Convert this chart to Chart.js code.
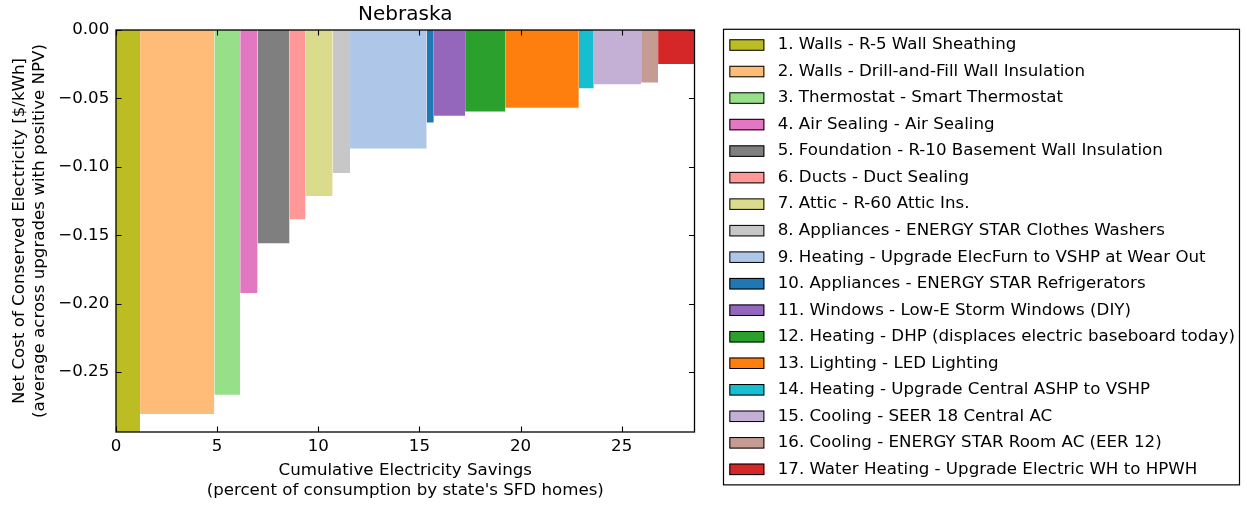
<!DOCTYPE html>
<html>
<head>
<meta charset="utf-8">
<script src="https://cdn.jsdelivr.net/npm/chart.js@4/dist/chart.umd.min.js"></script>
<style>
  html, body { margin: 0; padding: 0; background: #fff; }
  #supplyCurve { display: block; }
</style>
</head>
<body>
<canvas id="supplyCurve" width="1247" height="508"></canvas>
<script>
// upgrades in the order they are stacked along the x axis
const upgrades = [
    '1. Walls - R-5 Wall Sheathing',
    '2. Walls - Drill-and-Fill Wall Insulation',
    '3. Thermostat - Smart Thermostat',
    '4. Air Sealing - Air Sealing',
    '5. Foundation - R-10 Basement Wall Insulation',
    '6. Ducts - Duct Sealing',
    '7. Attic - R-60 Attic Ins.',
    '8. Appliances - ENERGY STAR Clothes Washers',
    '9. Heating - Upgrade ElecFurn to VSHP at Wear Out',
    '10. Appliances - ENERGY STAR Refrigerators',
    '11. Windows - Low-E Storm Windows (DIY)',
    '12. Heating - DHP (displaces electric baseboard today)',
    '13. Lighting - LED Lighting',
    '14. Heating - Upgrade Central ASHP to VSHP',
    '15. Cooling - SEER 18 Central AC',
    '16. Cooling - ENERGY STAR Room AC (EER 12)',
    '17. Water Heating - Upgrade Electric WH to HPWH'
];

// electricity savings of each upgrade (% of consumption) = bar width
const savings = [1.19, 3.67, 1.28, 0.86, 1.58, 0.79, 1.34, 0.86, 3.79, 0.35, 1.55, 1.98, 3.64, 0.74, 2.34, 0.84, 1.80];

// net cost of conserved electricity [$/kWh] = bar height
const netCost = [-0.320, -0.2807, -0.2666, -0.1923, -0.1559, -0.1384, -0.1213, -0.1045, -0.0867,
                 -0.0677, -0.0626, -0.0595, -0.0568, -0.0426, -0.0397, -0.0383, -0.0249];

const barColors = ['#bcbd22', '#ffbb78', '#98df8a', '#e377c2', '#7f7f7f', '#ff9896', '#dbdb8d', '#c7c7c7', '#aec7e8',
                   '#1f77b4', '#9467bd', '#2ca02c', '#ff7f0e', '#17becf', '#c5b0d5', '#c49c94', '#d62728'];

const xTicks = [0, 5, 10, 15, 20, 25];
const yTicks = [0, -0.05, -0.10, -0.15, -0.20, -0.25];
const yMin = -0.2939;

const FONT = 'DejaVu Sans';
const FS = 16.67;

// each bar is a filled step from its left edge to its right edge
let edge = 0;
const datasets = upgrades.map((name, i) => {
    const x0 = edge;
    edge += savings[i];
    return {
        label: name,
        data: [{ x: x0, y: netCost[i] }, { x: edge, y: netCost[i] }],
        backgroundColor: barColors[i],
        borderColor: 'transparent',
        borderWidth: 0,
        pointRadius: 0,
        pointHoverRadius: 0,
        fill: 'origin',
        tension: 0
    };
});
const xMax = edge;

const fmtY = v => Math.abs(v) < 1e-9 ? '0.00' : '\u2212' + Math.abs(v).toFixed(2);

const LEGEND_BOX_W = 35;
const LEGEND_BOX_H = 11.5;

const framePlugin = {
    id: 'frame',
    beforeLayout(chart) {
        const lg = chart.legend;
        if (lg && !lg._fixedWidth) {
            const fit = lg.fit;
            lg.fit = function () {
                fit.call(this);
                this.width = 527.5;
            };
            lg._fixedWidth = true;
        }
    },
    afterDatasetsDraw(chart) {
        const { ctx, chartArea: a } = chart;
        const sx = chart.scales.x;
        const sy = chart.scales.y;
        const tick = 5.5;
        ctx.save();
        ctx.strokeStyle = '#000';
        ctx.lineWidth = 1.1;
        ctx.beginPath();
        xTicks.forEach(v => {
            const px = Math.round(sx.getPixelForValue(v)) + 0.5;
            ctx.moveTo(px, a.bottom); ctx.lineTo(px, a.bottom - tick);
            ctx.moveTo(px, a.top); ctx.lineTo(px, a.top + tick);
        });
        yTicks.forEach(v => {
            const py = Math.round(sy.getPixelForValue(v)) + 0.5;
            ctx.moveTo(a.left, py); ctx.lineTo(a.left + tick, py);
            ctx.moveTo(a.right, py); ctx.lineTo(a.right - tick, py);
        });
        ctx.stroke();
        ctx.lineWidth = 1.3;
        ctx.strokeRect(a.left, a.top, a.right - a.left, a.bottom - a.top);
        ctx.restore();
    },
    afterDraw(chart) {
        const lg = chart.legend;
        const hb = lg.legendHitBoxes;
        if (!hb || !hb.length) return;
        const { ctx } = chart;
        ctx.save();
        // legend frame
        const last = hb[hb.length - 1];
        const fx0 = lg.left + 4;
        const fx1 = lg.right - 7.5;
        const fy0 = hb[0].top - 7.4;
        const fy1 = last.top + last.height + 7.2;
        ctx.strokeStyle = '#000';
        ctx.lineWidth = 1.2;
        ctx.strokeRect(fx0, fy0, fx1 - fx0, fy1 - fy0);
        // colour patches
        ctx.lineWidth = 1;
        hb.forEach((b, i) => {
            const y = b.top + (b.height - LEGEND_BOX_H) / 2;
            ctx.fillStyle = barColors[i];
            ctx.fillRect(b.left, y, LEGEND_BOX_W, LEGEND_BOX_H);
            ctx.strokeStyle = '#000';
            ctx.strokeRect(b.left + 0.5, y + 0.5, LEGEND_BOX_W - 1, LEGEND_BOX_H - 1);
        });
        ctx.restore();
    }
};

const ctx = document.getElementById('supplyCurve').getContext('2d');

window.supplyCurve = new Chart(ctx, {
    type: 'line',
    data: { datasets: datasets },
    plugins: [framePlugin],
    options: {
        responsive: false,
        devicePixelRatio: 1,
        animation: false,
        events: [],
        layout: { padding: { top: 6.35, right: 0, bottom: 0, left: 0 } },
        plugins: {
            title: {
                display: true,
                text: 'Nebraska',
                fullSize: false,
                color: '#000',
                font: { family: FONT, size: 20, weight: 'normal', lineHeight: 0.8 },
                padding: { top: 0, bottom: 7.65 }
            },
            legend: {
                display: true,
                position: 'right',
                align: 'center',
                fullSize: true,
                labels: {
                    color: '#000',
                    font: { family: FONT, size: FS },
                    boxWidth: LEGEND_BOX_W + 5,
                    boxHeight: LEGEND_BOX_H,
                    padding: 9.85,
                    generateLabels: chart => upgrades.map((name, i) => ({
                        text: name,
                        fillStyle: 'rgba(0,0,0,0)',
                        strokeStyle: 'rgba(0,0,0,0)',
                        lineWidth: 0,
                        hidden: false,
                        datasetIndex: i
                    }))
                }
            },
            tooltip: { enabled: false }
        },
        scales: {
            x: {
                type: 'linear',
                position: 'bottom',
                min: 0,
                max: xMax,
                afterBuildTicks: s => { s.ticks = xTicks.map(v => ({ value: v })); },
                afterFit: s => { s.height = 76; },
                grid: { display: false, drawTicks: false },
                border: { display: false },
                ticks: {
                    color: '#000',
                    font: { family: FONT, size: FS },
                    padding: 4.7,
                    maxRotation: 0,
                    callback: v => String(v)
                },
                title: {
                    display: true,
                    text: ['Cumulative Electricity Savings', "(percent of consumption by state's SFD homes)"],
                    color: '#000',
                    font: { family: FONT, size: FS, lineHeight: 1.22 },
                    padding: { top: 0, bottom: 6.85 }
                }
            },
            y: {
                type: 'linear',
                position: 'left',
                min: yMin,
                max: 0,
                afterBuildTicks: s => { s.ticks = yTicks.map(v => ({ value: v })); },
                afterFit: s => { s.width = 116; },
                grid: { display: false, drawTicks: false },
                border: { display: false },
                ticks: {
                    color: '#000',
                    font: { family: FONT, size: FS },
                    padding: 6.7,
                    callback: v => fmtY(v)
                },
                title: {
                    display: true,
                    text: ['Net Cost of Conserved Electricity [$/kWh]', '(average across upgrades with positive NPV)'],
                    color: '#000',
                    font: { family: FONT, size: FS, lineHeight: 1.2 },
                    padding: { top: 10, bottom: 0 }
                }
            },
            y2: {
                type: 'linear',
                position: 'right',
                display: true,
                afterFit: s => { s.width = 25; },
                grid: { display: false, drawTicks: false },
                border: { display: false },
                ticks: { display: false }
            }
        }
    }
});
</script>
</body>
</html>
